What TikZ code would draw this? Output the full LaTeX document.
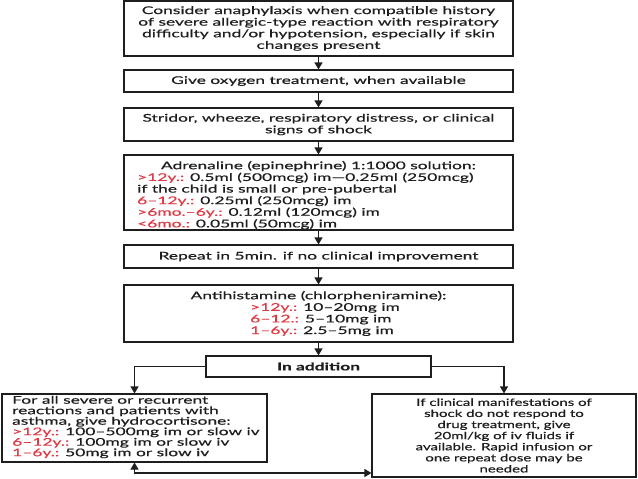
\documentclass[tikz,border=0pt]{standalone}
\usepackage{fontspec}
\setmainfont{Lato}[FakeStretch=1.64,FakeBold=0.5]
\newfontfamily\narrowf{Lato}[FakeStretch=1.5,FakeBold=0.5]
\usetikzlibrary{arrows.meta}
\definecolor{dosered}{RGB}{222,58,68}
\definecolor{ink}{RGB}{30,30,30}
\newcommand{\rd}[1]{\textcolor{dosered}{#1}}
\newcommand{\mainsz}{\fontsize{10.6}{11.6}\selectfont\setlength{\lineskiplimit}{-8pt}}
\newcommand{\lbsz}{\fontsize{10.6}{10.5}\selectfont\setlength{\lineskiplimit}{-8pt}}
\newcommand{\rbsz}{\narrowf\fontsize{10}{11.1}\selectfont\setlength{\lineskiplimit}{-8pt}}
\begin{document}
\begin{tikzpicture}[x=1pt,y=-1pt,
  box/.style={draw=ink, line width=1.1pt, inner sep=0pt, minimum width=389pt,
              text=ink, align=center, font=\mainsz},
  txt/.style={inner sep=0pt, text=ink, font=\mainsz},
  arr/.style={draw=ink, line width=1.1pt, -{Triangle[width=8pt,length=7pt]}},
  darr/.style={draw=ink, line width=1.1pt, {Triangle[width=8pt,length=7pt]}-{Triangle[width=8pt,length=7pt]}}]
\useasboundingbox[fill=white] (0,0) rectangle (638,479);

\node[box, minimum height=55pt] (b1) at (318.5,28.5)
  {Consider anaphylaxis when compatible history\\of severe allergic-type reaction with respiratory\\difficulty and/or hypotension, especially if skin\\changes present};
\node[box, minimum height=22pt] (b2) at (318.5,81) {Give oxygen treatment, when available};
\node[box, minimum height=33pt] (b3) at (318.5,124.5) {Stridor, wheeze, respiratory distress, or clinical\\signs of shock};
\node[box, minimum height=75pt] (b4) at (318.5,192.5) {};
\node[txt] (t4a) at (318.5,166) {Adrenaline (epinephrine) 1:1000 solution:};
\node[txt, anchor=west, align=left] (t4b) at (137,201)
  {\rd{>12y.:} 0.5ml (500mcg) im---0.25ml (250mcg)\\
   if the child is small or pre-pubertal\\
   \rd{6--12y.:} 0.25ml (250mcg) im\\
   \rd{>6mo.--6y.:} 0.12ml (120mcg) im\\
   \rd{<6mo.:} 0.05ml (50mcg) im};
\node[box, minimum height=23pt] (b5) at (318.5,256.5) {Repeat in 5min. if no clinical improvement};
\node[box, minimum height=57pt] (b6) at (318.5,313.5) {};
\node[txt] (t6a) at (318.5,296) {Antihistamine (chlorpheniramine):};
\node[txt, anchor=west, align=left] (t6b) at (250,319.5)
  {\rd{>12y.:} 10--20mg im\\
   \rd{6--12.:} 5--10mg im\\
   \rd{1--6y.:} 2.5--5mg im};
\node[box, minimum width=225pt, minimum height=21pt, font=\mainsz\bfseries] (add) at (318.5,366.5) {In addition};
\node[box, minimum width=265pt, minimum height=68pt] (lb) at (134.5,428) {};
\node[txt, anchor=west, align=left, font=\lbsz] (tl) at (12,427)
  {For all severe or recurrent\\
   reactions and patients with\\
   asthma, give hydrocortisone:\\
   \rd{>12y.:} 100--500mg im or slow iv\\
   \rd{6--12y.:} 100mg im or slow iv\\
   \rd{1--6y.:} 50mg im or slow iv};
\node[box, minimum width=264pt, minimum height=83pt, font=\rbsz] (rb) at (504,435.5)
  {If clinical manifestations of\\shock do not respond to\\drug treatment, give\\20ml/kg of iv fluids if\\available. Rapid infusion or\\one repeat dose may be\\needed};

\draw[arr] (b1) -- (b2);
\draw[arr] (b2) -- (b3);
\draw[arr] (b3) -- (b4);
\draw[arr] (b4) -- (b5);
\draw[arr] (b5) -- (b6);
\draw[arr] (b6) -- (add);
\draw[arr] (add.west) -| (lb.north);
\draw[arr] (add.east) -| (rb.north);
\coordinate (bc) at (134.5,473);
\draw[darr] (lb.south) -- (bc) -- (rb.west |- bc);
\end{tikzpicture}
\end{document}
